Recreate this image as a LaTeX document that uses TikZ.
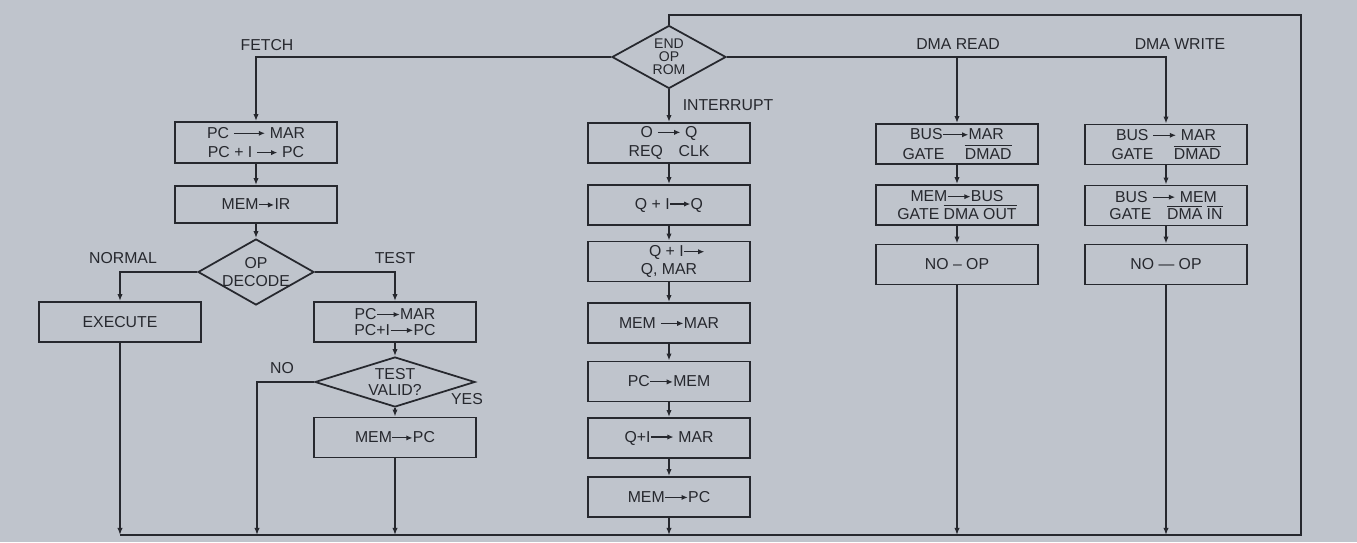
\documentclass[tikz,border=0pt]{standalone}
\usepackage{fontspec}
\setmainfont{Liberation Sans}
\usetikzlibrary{shapes.geometric,arrows.meta}
\definecolor{paper}{RGB}{191,196,204}
\definecolor{ink}{RGB}{38,40,46}

% transfer arrow inside the boxes
\newcommand{\tto}[1][0.5cm]{\tikz[baseline=-0.6ex]\draw[ink,line width=0.6pt,-{Latex[length=3.5pt,width=3pt]}] (0,0) -- (#1,0);}
\newcommand{\ovl}[1]{$\overline{\hbox{#1}}$}

\tikzset{
  box/.style={draw=ink, line width=1pt, minimum width=3.24cm, minimum height=0.8cm,
    inner sep=1pt, align=center, font=\fontsize{9}{11}\selectfont, text=ink},
  decision/.style={diamond, draw=ink, line width=1pt, inner xsep=-4mm, inner ysep=-2mm,
    aspect=2, align=center, font=\fontsize{9}{10}\selectfont, text=ink},
  lbl/.style={font=\fontsize{9}{11}\selectfont, text=ink},
  flow/.style={draw=ink, line width=0.8pt, -{Latex[length=4pt,width=3pt]}},
  wire/.style={draw=ink, line width=0.8pt},
}

\begin{document}
\begin{tikzpicture}[x=0.02cm, y=-0.02cm]
  % Background
  \fill[paper] (0,0) rectangle (1357,542);
  \useasboundingbox (0,0) rectangle (1357,542);

  % End of op dispatch
  \node[decision, minimum width=2.28cm, minimum height=1.26cm, font=\fontsize{8}{7.5}\selectfont] (endop) at (669,57) {END\\OP\\ROM};

  % Fetch column
  \node[lbl] (lfetch) at (267,45) {FETCH};
  \node[box, minimum height=0.82cm] (fetchA) at (256,142.5) {PC \tto[0.62cm] MAR\\PC + I \tto[0.4cm] PC};
  \node[box, minimum height=0.74cm] (fetchB) at (256,204.5) {MEM\tto[0.3cm]IR};
  \node[decision, minimum width=2.32cm, minimum height=1.32cm] (opdec) at (256,272) {OP\\DECODE};
  \node[lbl] (lnormal) at (123,258) {NORMAL};
  \node[lbl] (ltest) at (395,258) {TEST};
  \node[box] (exec) at (120,322) {EXECUTE};
  \node[box] (testpc) at (395,322) {PC\tto[0.45cm]MAR\\[-2pt]PC+I\tto[0.45cm]PC};
  \node[decision, minimum width=3.2cm, minimum height=1.0cm, font=\fontsize{9}{9}\selectfont] (valid) at (395,382) {TEST\\VALID?};
  \node[lbl] (lno) at (282,368) {NO};
  \node[lbl] (lyes) at (467,399) {YES};
  \node[box] (mempc) at (395,437.5) {MEM\tto[0.4cm]PC};

  % Interrupt column
  \node[lbl] (lint) at (728,105) {INTERRUPT};
  \node[box] (intA) at (669,143) {O \tto[0.45cm] Q\\REQ\quad CLK};
  \node[box] (intB) at (669,205) {Q + I\tto[0.4cm]Q};
  \node[box] (intC) at (669,261.5) {\hspace{1em}Q + I\tto[0.4cm]\\[-1pt]Q, MAR};
  \node[box] (intD) at (669,323) {MEM \tto[0.45cm]MAR};
  \node[box] (intE) at (669,381.5) {PC\tto[0.45cm]MEM};
  \node[box] (intF) at (669,438) {Q+I\tto[0.45cm] MAR};
  \node[box] (intG) at (669,497) {MEM\tto[0.45cm]PC};

  % DMA read column
  \node[lbl] (lread) at (958,44) {DMA READ};
  \node[box] (rdA) at (957,144) {BUS\tto[0.5cm]MAR\\GATE\hspace{1.3em}\ovl{DMAD}};
  \node[box] (rdB) at (957,205) {MEM\tto[0.45cm]BUS\\[-1pt]GATE\ \ovl{DMA OUT}};
  \node[box] (rdC) at (957,264.5) {NO -- OP};

  % DMA write column
  \node[lbl] (lwrite) at (1180,44) {DMA WRITE};
  \node[box] (wrA) at (1166,144.5) {BUS \tto[0.45cm] MAR\\GATE\hspace{1.3em}\ovl{DMAD}};
  \node[box] (wrB) at (1166,205.5) {BUS \tto[0.45cm] MEM\\[-1pt]GATE\hspace{1em}\ovl{DMA}\ \ovl{IN}};
  \node[box] (wrC) at (1166,264.5) {NO --- OP};

  % Return bus
  \coordinate (busL) at (120,535);
  \coordinate (busR) at (1301,535);
  \coordinate (busNo) at (257,535);
  \coordinate (topR) at (1301,15);
  \draw[wire] (busL) -- (busR) -- (topR) -| (endop.north);

  % Branches
  \draw[flow] (endop.west) -| (fetchA.north);
  \draw[flow] (endop.east) -| (wrA.north);
  \draw[flow] (endop.east -| rdA.north) -- (rdA.north);
  \draw[flow] (endop) -- (intA);
  \draw[flow] (opdec.west) -| (exec.north);
  \draw[flow] (opdec.east) -| (testpc.north);
  \draw[flow] (valid.west) -| (busNo);
  \foreach \a/\b in {fetchA/fetchB,fetchB/opdec,testpc/valid,valid/mempc,intA/intB,intB/intC,intC/intD,intD/intE,intE/intF,intF/intG,rdA/rdB,rdB/rdC,wrA/wrB,wrB/wrC}
    \draw[flow] (\a) -- (\b);
  \foreach \n in {exec,mempc,intG,rdC,wrC}
    \draw[flow] (\n) -- (\n |- busL);
\end{tikzpicture}
\end{document}
